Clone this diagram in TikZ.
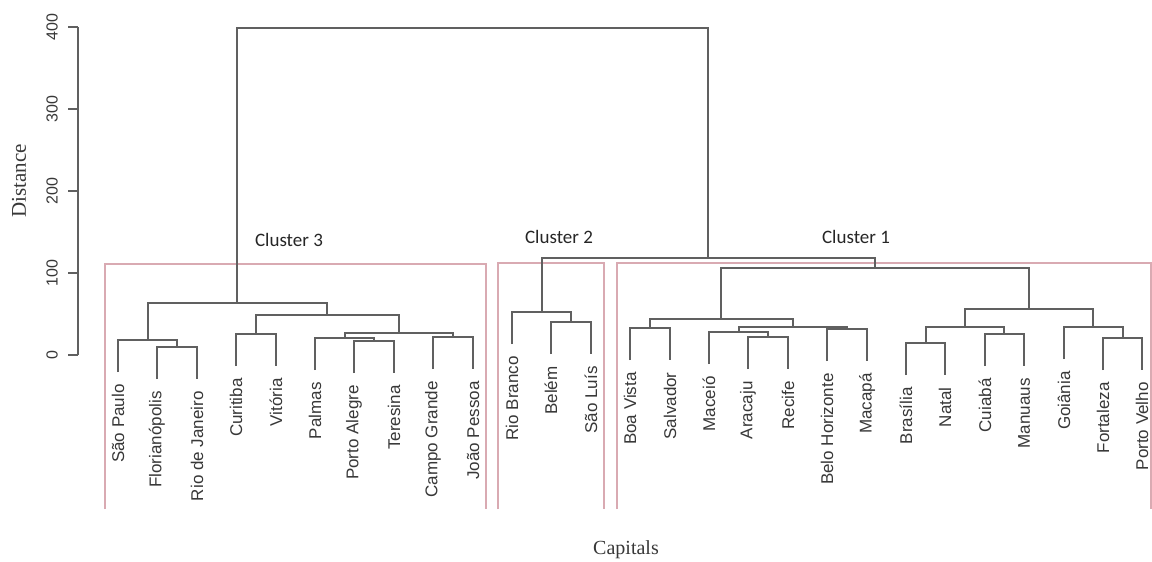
\documentclass[tikz,border=0pt]{standalone}
\usepackage{fontspec}
\setmainfont{Liberation Serif}
\newfontfamily\arialf{Liberation Sans}
\newfontfamily\calibf{Carlito}
\usetikzlibrary{calc}
\definecolor{treegray}{HTML}{606060}
\definecolor{labgray}{HTML}{383838}
\definecolor{boxpink}{HTML}{D9AAB2}
\tikzset{
  tree/.style={draw=treegray, line width=0.9pt},
  clbox/.style={draw=boxpink, line width=0.55pt},
  leaflab/.style={rotate=90, anchor=east, inner sep=0pt, text=labgray, font=\arialf\fontsize{8.5pt}{10pt}\selectfont},
  ticklab/.style={rotate=90, anchor=center, inner sep=0pt, text=labgray, font=\arialf\fontsize{8pt}{10pt}\selectfont},
  axtitle/.style={inner sep=0pt, text=labgray, font=\fontsize{10.5pt}{12pt}\selectfont},
  cltitle/.style={inner sep=0pt, text=black!85, font=\calibf\fontsize{9.5pt}{11pt}\selectfont}
}
\begin{document}
\begin{tikzpicture}[x=0.5pt,y=-0.5pt]
\useasboundingbox (0,0) rectangle (1152,562);
\fill[white] (0,0) rectangle (1152,562);

% cluster boxes (open at the bottom)
\draw[clbox] (105,509) -- (105,264) -- (486,264) -- (486,509);
\draw[clbox] (498,509) -- (498,263) -- (604,263) -- (604,509);
\draw[clbox] (617,509) -- (617,263) -- (1151,263) -- (1151,509);

% axis
\coordinate (ax0) at (78,355);
\coordinate (ax400) at (78,27);
\draw[tree] (ax0) -- (ax400);
\foreach \v/\yy in {0/355,100/273,200/191,300/109,400/27}{
  \draw[tree] (78,\yy) -- (68,\yy);
  \node[ticklab] (tick\v) at (52,\yy) {\v};
}
\node[axtitle, rotate=90] (ytitle) at (19,181) {Distance};
\node[axtitle, font=\fontsize{10pt}{12pt}\selectfont] (xtitle) at (626,550) {Capitals};

% cluster titles
\node[cltitle] (cl3) at (289,240) {Cluster 3};
\node[cltitle] (cl2) at (559,237) {Cluster 2};
\node[cltitle] (cl1) at (856,237) {Cluster 1};

% merge points
\coordinate (mFR) at (177,347);
\coordinate (mSP) at (148,340);
\coordinate (mCV) at (256,334);
\coordinate (mPT) at (374,341);
\coordinate (mP) at (345,338);
\coordinate (mCJ) at (453,337);
\coordinate (mPCJ) at (399,333);
\coordinate (mCVP) at (327,315);
\coordinate (mC3) at (237,303);
\coordinate (mBS) at (571,322);
\coordinate (mC2) at (542,312);
\coordinate (mBVS) at (650,328);
\coordinate (mAR) at (768,337);
\coordinate (mMAR) at (739,332);
\coordinate (mBHM) at (847,329);
\coordinate (mMARB) at (793,327);
\coordinate (mL) at (721,319);
\coordinate (mBN) at (926,343);
\coordinate (mCM) at (1004,334);
\coordinate (mBNCM) at (965,327);
\coordinate (mFP) at (1123,338);
\coordinate (mGFP) at (1093,327);
\coordinate (mR) at (1029,309);
\coordinate (mC1) at (875,268);
\coordinate (mC12) at (708,258);
\coordinate (mTop) at (472,28);

% leaves (bottom ends, hang 32 below parent)
\coordinate (SP) at (118,372);
\coordinate (Flor) at (157,379);
\coordinate (RJ) at (197,379);
\coordinate (Cur) at (236,366);
\coordinate (Vit) at (276,366);
\coordinate (Pal) at (315,370);
\coordinate (PA) at (354,373);
\coordinate (Ter) at (394,373);
\coordinate (CG) at (433,369);
\coordinate (JP) at (473,369);
\coordinate (RB) at (512,344);
\coordinate (Bel) at (551,354);
\coordinate (SL) at (591,354);
\coordinate (BV) at (630,360);
\coordinate (Sal) at (670,360);
\coordinate (Mcz) at (709,364);
\coordinate (Ara) at (748,369);
\coordinate (Rec) at (788,369);
\coordinate (BH) at (827,361);
\coordinate (Mcp) at (867,361);
\coordinate (Bra) at (906,375);
\coordinate (Nat) at (945,375);
\coordinate (Cui) at (985,366);
\coordinate (Man) at (1024,366);
\coordinate (Goi) at (1064,359);
\coordinate (For) at (1103,370);
\coordinate (PV) at (1142,370);

% dendrogram connectors
\draw[tree] (Flor) |- (mFR) -| (RJ);
\draw[tree] (SP) |- (mSP) -| (mFR);
\draw[tree] (Cur) |- (mCV) -| (Vit);
\draw[tree] (PA) |- (mPT) -| (Ter);
\draw[tree] (Pal) |- (mP) -| (mPT);
\draw[tree] (CG) |- (mCJ) -| (JP);
\draw[tree] (mP) |- (mPCJ) -| (mCJ);
\draw[tree] (mCV) |- (mCVP) -| (mPCJ);
\draw[tree] (mSP) |- (mC3) -| (mCVP);
\draw[tree] (Bel) |- (mBS) -| (SL);
\draw[tree] (RB) |- (mC2) -| (mBS);
\draw[tree] (BV) |- (mBVS) -| (Sal);
\draw[tree] (Ara) |- (mAR) -| (Rec);
\draw[tree] (Mcz) |- (mMAR) -| (mAR);
\draw[tree] (BH) |- (mBHM) -| (Mcp);
\draw[tree] (mMAR) |- (mMARB) -| (mBHM);
\draw[tree] (mBVS) |- (mL) -| (mMARB);
\draw[tree] (Bra) |- (mBN) -| (Nat);
\draw[tree] (Cui) |- (mCM) -| (Man);
\draw[tree] (mBN) |- (mBNCM) -| (mCM);
\draw[tree] (For) |- (mFP) -| (PV);
\draw[tree] (Goi) |- (mGFP) -| (mFP);
\draw[tree] (mBNCM) |- (mR) -| (mGFP);
\draw[tree] (mL) |- (mC1) -| (mR);
\draw[tree] (mC2) |- (mC12) -| (mC1);
\draw[tree] (mC3) |- (mTop) -| (mC12);

% leaf labels
\foreach \c/\t in {SP/São Paulo, Flor/Florianópolis, RJ/Rio de Janeiro, Cur/Curitiba, Vit/Vitória, Pal/Palmas, PA/Porto Alegre, Ter/Teresina, CG/Campo Grande, JP/João Pessoa, RB/Rio Branco, Bel/Belém, SL/São Luís, BV/Boa Vista, Sal/Salvador, Mcz/Maceió, Ara/Aracaju, Rec/Recife, BH/Belo Horizonte, Mcp/Macapá, Bra/Brasília, Nat/Natal, Cui/Cuiabá, Man/Manuaus, Goi/Goiânia, For/Fortaleza, PV/Porto Velho}{
  \node[leaflab] (\c-lab) at ($(\c)+(0,12)$) {\t};
}
\end{tikzpicture}
\end{document}
